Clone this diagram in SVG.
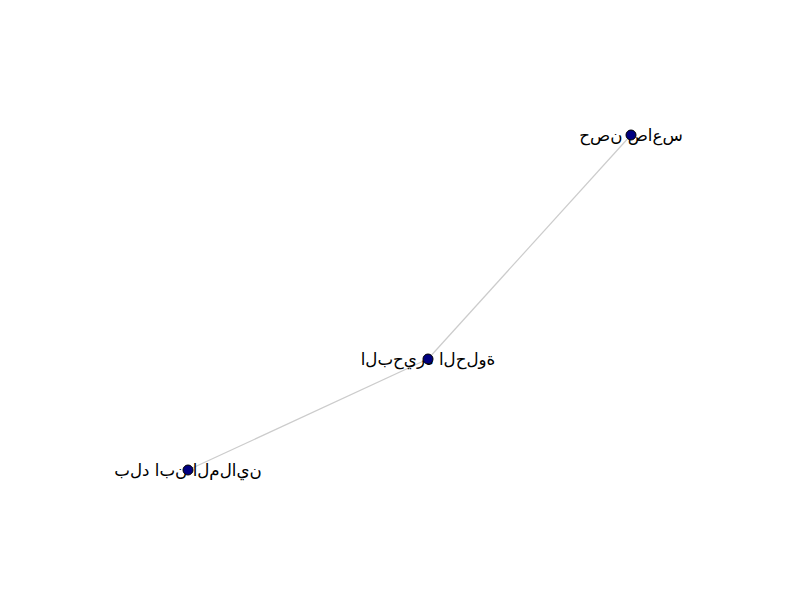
<svg xmlns="http://www.w3.org/2000/svg" width="800" height="600" viewBox="0 0 800 600">
<style>
.edge{stroke:#cccccc;stroke-width:1.2;fill:none}
.node circle{fill:#000080;stroke:#000000;stroke-width:1}
.node text{font-family:"DejaVu Sans",sans-serif;font-size:16.67px;fill:#000;text-anchor:middle;dominant-baseline:central}
</style>
<rect width="800" height="600" fill="#ffffff"/>
<g id="edges">
<line class="edge" x1="631" y1="135" x2="428" y2="359"/>
<line class="edge" x1="428" y1="359" x2="188" y2="470"/>
</g>
<g id="n1" class="node"><text x="631" y="135" direction="ltr" unicode-bidi="bidi-override">ح&#x200C;ص&#x200C;ن ص&#x200C;ا&#x200C;ع&#x200C;س</text><circle cx="631" cy="135" r="5"/></g>
<g id="n2" class="node"><text x="428" y="359" direction="ltr" unicode-bidi="bidi-override">ا&#x200C;ل&#x200C;ب&#x200C;ح&#x200C;ي&#x200C;ر&#x200C;ة ا&#x200C;ل&#x200C;ح&#x200C;ل&#x200C;و&#x200C;ة</text><circle cx="428" cy="359" r="5"/></g>
<g id="n3" class="node"><text x="188" y="470" direction="ltr" unicode-bidi="bidi-override">ب&#x200C;ل&#x200C;د ا&#x200C;ب&#x200C;ن ا&#x200C;ل&#x200C;م&#x200C;ل&#x200C;ا&#x200C;ي&#x200C;ن</text><circle cx="188" cy="470" r="5"/></g>
</svg>
